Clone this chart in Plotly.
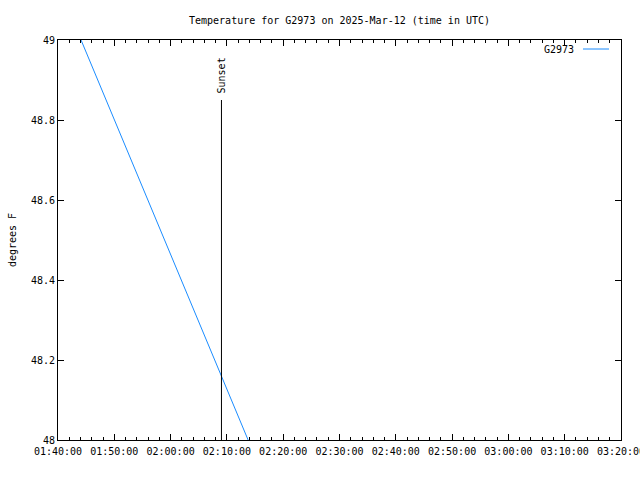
import plotly.graph_objects as go

# Data
times = ["2025-03-12 01:40:00", "2025-03-12 02:20:00"]
temps = [49.138, 47.79]
sunset_time = "2025-03-12 02:09:02"
sunset_range = [48.0, 48.85]
x_range = ["2025-03-12 01:40:00", "2025-03-12 03:20:00"]
x_tickvals = ["2025-03-12 01:40:00", "2025-03-12 01:50:00", "2025-03-12 02:00:00",
              "2025-03-12 02:10:00", "2025-03-12 02:20:00", "2025-03-12 02:30:00",
              "2025-03-12 02:40:00", "2025-03-12 02:50:00", "2025-03-12 03:00:00",
              "2025-03-12 03:10:00", "2025-03-12 03:20:00"]
x_ticktext = ["01:40:00", "01:50:00", "02:00:00", "02:10:00", "02:20:00", "02:30:00",
              "02:40:00", "02:50:00", "03:00:00", "03:10:00", "03:20:00"]
y_tickvals = [48, 48.2, 48.4, 48.6, 48.8, 49]
y_ticktext = ["48", "48.2", "48.4", "48.6", "48.8", "49"]

FONT = "DejaVu Sans Mono"
FS = 10
fig = go.Figure()
fig.add_trace(go.Scatter(x=times, y=temps, mode="lines",
                         line=dict(color="#1a8cff", width=1), name="G2973",
                         showlegend=False))
fig.add_trace(go.Scatter(x=[sunset_time, sunset_time], y=sunset_range, mode="lines",
                         line=dict(color="black", width=1), showlegend=False))
fig.add_annotation(x=sunset_time, y=sunset_range[1], yanchor="bottom", xanchor="center",
                   text="Sunset", textangle=-90, showarrow=False, yshift=5,
                   font=dict(family=FONT, size=FS, color="black"))
# legend (gnuplot style: text then sample)
fig.add_annotation(xref="paper", yref="paper", x=0.920, y=0.977, xanchor="right",
                   yanchor="middle", text="G2973", showarrow=False,
                   font=dict(family=FONT, size=FS, color="black"))
fig.add_shape(type="line", xref="paper", yref="paper", x0=0.9325, x1=0.9787,
              y0=0.9775, y1=0.9775, line=dict(color="#1a8cff", width=1))

axis_common = dict(showline=True, linecolor="black", linewidth=1, mirror="ticks",
                   ticks="inside", tickcolor="black", showgrid=False, zeroline=False,
                   automargin=False,
                   tickfont=dict(family=FONT, size=FS, color="black"))
fig.update_xaxes(range=x_range, tickvals=x_tickvals, ticktext=x_ticktext, ticklen=6,
                 ticklabeloverflow="allow", ticklabelstandoff=2,
                 minor=dict(ticks="inside", ticklen=3, dtick=120000, tickcolor="black",
                            showgrid=False),
                 **axis_common)
fig.update_yaxes(range=[48, 49], tickvals=y_tickvals, ticktext=y_ticktext, ticklen=6,
                 title=dict(text="degrees F", font=dict(family=FONT, size=FS, color="black"),
                            standoff=12),
                 **axis_common)
fig.update_layout(
    width=640, height=480,
    margin=dict(l=58, r=19, t=40, b=40, autoexpand=False),
    paper_bgcolor="white", plot_bgcolor="white",
    title=dict(text="Temperature for G2973 on 2025-Mar-12 (time in UTC)",
               xref="paper", x=0.5, xanchor="center", y=0.958, yanchor="middle",
               font=dict(family=FONT, size=FS, color="black")),
    showlegend=False,
)
fig.write_html("out.html")
